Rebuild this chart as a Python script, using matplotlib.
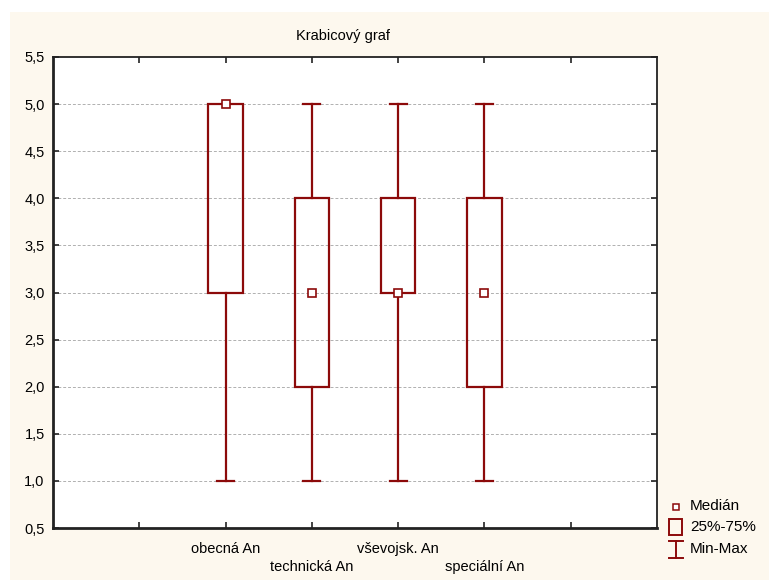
import matplotlib
matplotlib.use("Agg")
import matplotlib.pyplot as plt
from matplotlib.patches import Rectangle
from matplotlib.lines import Line2D

plt.rcParams['font.family'] = ['Liberation Sans', 'DejaVu Sans']

categories = ["obecná An", "technická An", "v\u0161evojsk. An", "speciální An"]
mins = [1.0, 1.0, 1.0, 1.0]
q1s = [3.0, 2.0, 3.0, 2.0]
medians = [5.0, 3.0, 3.0, 3.0]
q3s = [5.0, 4.0, 4.0, 4.0]
maxs = [5.0, 5.0, 5.0, 5.0]
positions = [2, 3, 4, 5]
yticks = [0.5, 1.0, 1.5, 2.0, 2.5, 3.0, 3.5, 4.0, 4.5, 5.0, 5.5]

RED = "#8c0a0a"
CREAM = "#fdf8ee"
FS = 10.5

W, H = 769, 583
fig = plt.figure(figsize=(W / 100, H / 100), dpi=100)
fig.patch.set_facecolor("white")
fig.add_artist(Rectangle((10 / W, 3 / H), 1 - 10 / W, (583 - 12 - 3) / H,
                         transform=fig.transFigure, facecolor=CREAM,
                         edgecolor="none", zorder=-10))

ax = fig.add_axes([53 / W, 55 / H, 604 / W, 471 / H])
ax.set_facecolor("white")
ax.set_xlim(0, 7)
ax.set_ylim(0.5, 5.5)

for g in yticks[1:-1]:
    ax.axhline(g, color="#b0b0b0", lw=0.7, ls=(0, (3, 2)), zorder=1)

bw = 0.4
cw = 0.2
for p, mn, a, md, b, mx in zip(positions, mins, q1s, medians, q3s, maxs):
    ax.add_patch(Rectangle((p - bw / 2, a), bw, b - a, facecolor="none",
                           edgecolor=RED, lw=1.6, zorder=3))
    if mx > b:
        ax.plot([p, p], [b, mx], color=RED, lw=1.6, zorder=3)
        ax.plot([p - cw / 2, p + cw / 2], [mx, mx], color=RED, lw=1.6, zorder=3)
    if mn < a:
        ax.plot([p, p], [mn, a], color=RED, lw=1.6, zorder=3)
        ax.plot([p - cw / 2, p + cw / 2], [mn, mn], color=RED, lw=1.6, zorder=3)
    ax.plot([p], [md], marker="s", ms=6, mfc="white", mec=RED, mew=1.2,
            ls="none", zorder=5)

ax.set_xticks([1, 2, 3, 4, 5, 6])
ax.set_xticklabels([""] + [c if i % 2 == 0 else "\n" + c
                           for i, c in enumerate(categories)] + [""])
ax.set_yticks(yticks)
ax.set_yticklabels([f"{v:.1f}".replace(".", ",") for v in yticks])
ax.tick_params(direction="in", length=4, width=1.2, labelsize=FS,
               top=True, right=True, colors="#222222", labelcolor="black")
ax.tick_params(axis="x", pad=10)
ax.tick_params(axis="y", pad=6)
for s in ax.spines.values():
    s.set_linewidth(1.3)
    s.set_color("#222222")
ax.spines["left"].set_linewidth(2)
ax.spines["bottom"].set_linewidth(2)
for lbl in ax.get_xticklabels():
    lbl.set_linespacing(1.35)

fig.text(343 / W, 1 - 36 / H, "Krabicový graf", ha="center", va="center",
         fontsize=FS)

# legend
fx = lambda x: x / W
fy = lambda y: 1 - y / H
fig.add_artist(Line2D([fx(676)], [fy(507)], marker="s", ms=5, mfc="white",
                      mec=RED, mew=1.1, ls="none", transform=fig.transFigure))
fig.add_artist(Rectangle((fx(669), fy(535)), 13 / W, 16 / H, facecolor="none",
                         edgecolor=RED, lw=1.4, transform=fig.transFigure))
fig.add_artist(Line2D([fx(676), fx(676)], [fy(541), fy(558)], color=RED,
                      lw=1.4, transform=fig.transFigure))
fig.add_artist(Line2D([fx(669), fx(683)], [fy(541), fy(541)], color=RED,
                      lw=1.4, transform=fig.transFigure))
fig.add_artist(Line2D([fx(669), fx(683)], [fy(558), fy(558)], color=RED,
                      lw=1.4, transform=fig.transFigure))
for y, t in [(506, "Medián"), (527, "25%-75%"), (549, "Min-Max")]:
    fig.text(fx(690), fy(y), t, ha="left", va="center", fontsize=FS + 0.5)

fig.savefig("out.png", dpi=100, facecolor=fig.get_facecolor())
